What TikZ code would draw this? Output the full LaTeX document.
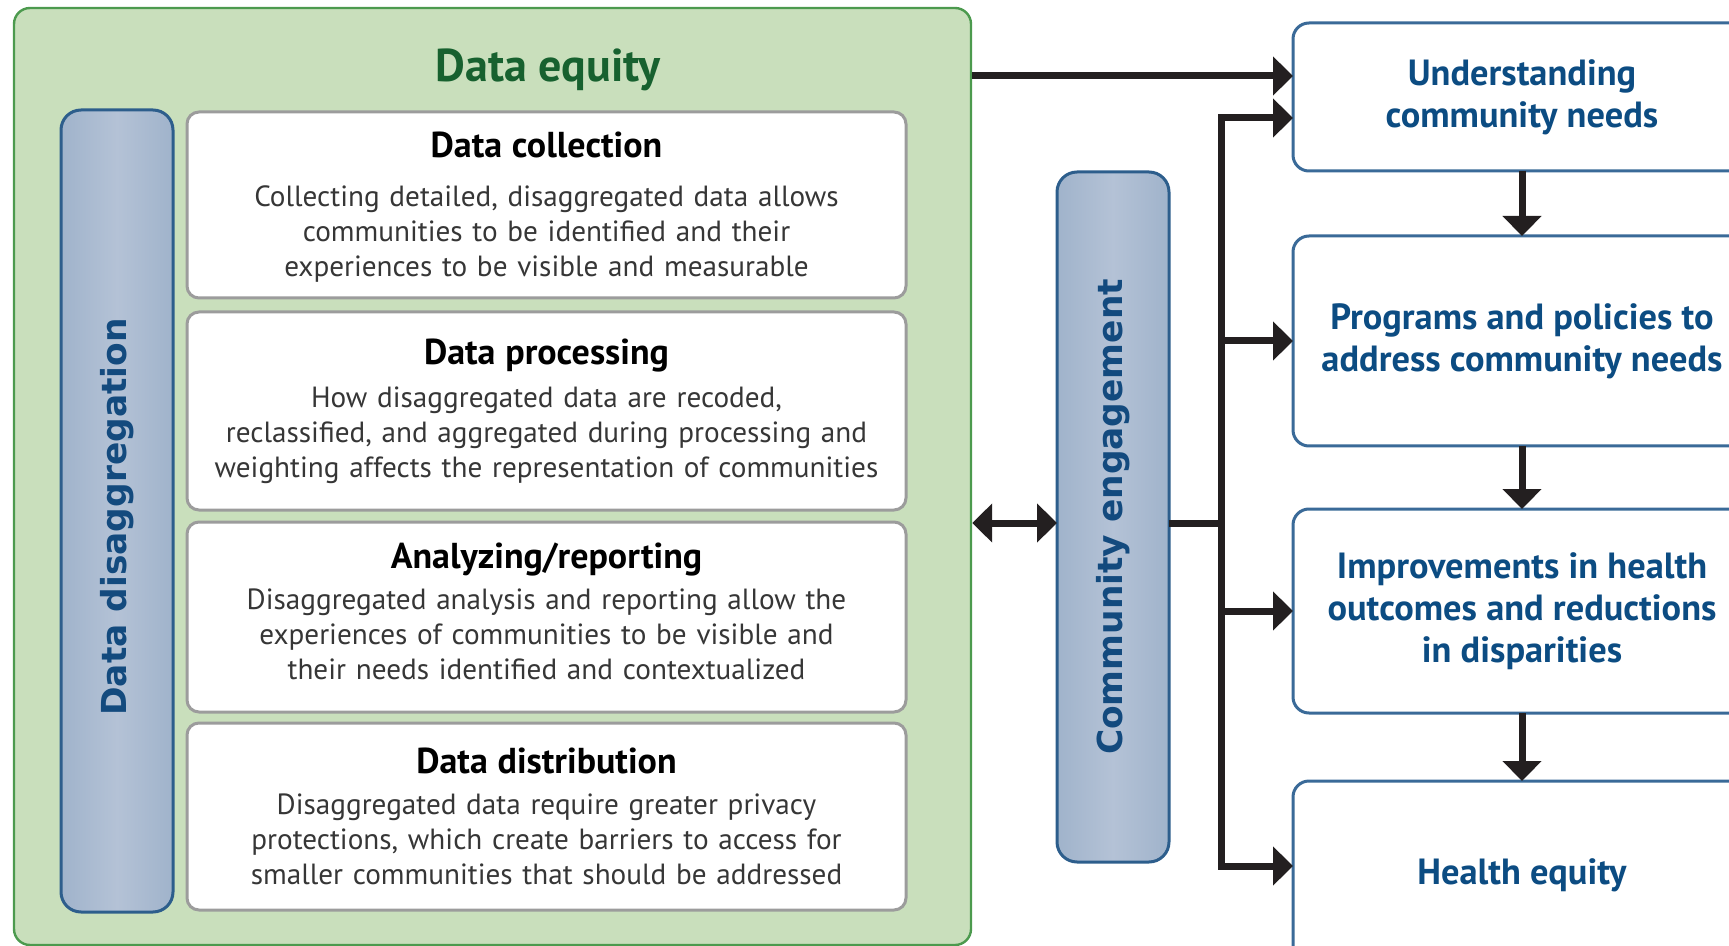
\documentclass[tikz,border=0pt]{standalone}
\usepackage{fontspec}
\setmainfont{PT Sans}
\newfontfamily\barfont{DejaVu Sans}
\usetikzlibrary{positioning,arrows.meta}
\definecolor{eqgreen}{HTML}{C9DFBC}
\definecolor{eqedge}{HTML}{4C9A4E}
\definecolor{eqtitle}{HTML}{17612F}
\definecolor{barfill}{HTML}{B4C2D6}
\definecolor{baredge}{HTML}{2D5E8C}
\definecolor{bartext}{HTML}{134A7E}
\definecolor{boxedge}{HTML}{9C9C9C}
\definecolor{steptext}{HTML}{363636}
\definecolor{outedge}{HTML}{3A6A98}
\definecolor{outtext}{HTML}{0C4C82}
\definecolor{linkink}{HTML}{231F20}

\begin{document}
\begin{tikzpicture}[x = 0.5pt, y = -0.5pt,
                    >  = {Triangle[length=10pt, width=19pt]}]
        \tikzset{EquityStyle/.style = {draw         = eqedge,
                                       line width   = 1.2pt,
                                       fill         = eqgreen,
                                       rounded corners = 8pt},
                 BarStyle/.style    = {draw         = baredge,
                                       line width   = 1.5pt,
                                       left color   = barfill!85!baredge,
                                       right color  = barfill!85!baredge,
                                       middle color = barfill,
                                       rounded corners = 10pt,
                                       minimum width = 56pt,
                                       outer sep    = 0pt},
                 BarText/.style     = {rotate       = 90,
                                       text         = bartext,
                                       font         = \barfont\bfseries\fontsize{17.2}{20}\selectfont},
                 StepStyle/.style   = {draw         = boxedge,
                                       line width   = 1.5pt,
                                       fill         = white,
                                       rounded corners = 6pt,
                                       minimum width = 359.5pt,
                                       text width   = 354pt,
                                       inner xsep   = 2pt,
                                       align        = center,
                                       outer sep    = 0pt,
                                       text         = steptext,
                                       font         = \fontsize{14.6}{17.5}\selectfont},
                 OutStyle/.style    = {draw         = outedge,
                                       line width   = 1.5pt,
                                       fill         = white,
                                       rounded corners = 8pt,
                                       minimum width = 229pt,
                                       align        = center,
                                       outer sep    = 0pt,
                                       text         = outtext,
                                       font         = \bfseries\fontsize{18.2}{21}\selectfont},
                 LinkStyle/.style   = {draw         = linkink,
                                       line width   = 3.5pt}}
        \useasboundingbox (0,0) rectangle (1729,946);

        % data equity frame
        \node[EquityStyle, minimum width=478.5pt, minimum height=468.5pt] (DE) at (492.5,476.5) {};
        \node[text=eqtitle, font=\bfseries\fontsize{23}{26}\selectfont] (DEt) at (548,70) {Data equity};
        \node[BarStyle, minimum height=401pt] (DDa) at (117,511) {};
        \node[BarText] (DDt) at (117,517) {Data disaggregation};

        \node[StepStyle, minimum height=93pt] (DSa) at (546.5,205)
            {{\bfseries\color{black}\fontsize{18}{17.5}\selectfont Data collection}\\[7pt]
             Collecting detailed, disaggregated data allows\\
             communities to be identified and their\\
             experiences to be visible and measurable\par\vspace{-2pt}};
        \node[StepStyle, minimum height=99pt, below=7pt of DSa] (DSb)
            {{\bfseries\color{black}\fontsize{18}{17.5}\selectfont Data processing}\\[4pt]
             How disaggregated data are recoded,\\
             reclassified, and aggregated during processing and\\
             weighting affects the representation of communities};
        \node[StepStyle, minimum height=95pt, below=6pt of DSb] (DSc)
            {{\bfseries\color{black}\fontsize{18}{17.5}\selectfont Analyzing/reporting}\\[3pt]
             Disaggregated analysis and reporting allow the\\
             experiences of communities to be visible and\\
             their needs identified and contextualized\par\vspace{5.5pt}};
        \node[StepStyle, minimum height=93.5pt, below=5.5pt of DSc] (DSd)
            {{\bfseries\color{black}\fontsize{18}{17.5}\selectfont Data distribution}\\[3pt]
             Disaggregated data require greater privacy\\
             protections, which create barriers to access for\\
             smaller communities that should be addressed};

        % community engagement
        \node[BarStyle, minimum height=345pt] (CEa) at (1113,517) {};
        \node[BarText] (CEt) at (CEa) {Community engagement};

        % outcomes
        \node[OutStyle, minimum height=74pt] (HOa) at (1522,97) {Understanding\\community needs};
        \node[OutStyle, minimum height=105pt, below=32.5pt of HOa] (HOb) {Programs and policies to\\address community needs};
        \node[OutStyle, minimum height=102pt, below=31.5pt of HOb] (HOc) {Improvements in health\\outcomes and reductions\\in disparities};
        \node[OutStyle, minimum height=94pt, below=34pt of HOc] (HOd) {Health equity};

        \draw[LinkStyle, ->] ([yshift=10.5pt]HOa.west -| DE.east) -- ([yshift=10.5pt]HOa.west);
        \draw[LinkStyle, <->] ([yshift=-3pt]CEa.west -| DE.east) -- ([yshift=-3pt]CEa.west);
        \coordinate (CT) at ([xshift=26pt, yshift=-3pt]CEa.east);
        \draw[LinkStyle] ([yshift=-3pt]CEa.east) -- (CT);
        \draw[LinkStyle, ->] (CT) |- ([yshift=-10.5pt]HOa.west);
        \draw[LinkStyle, ->] (CT |- HOb.west) -- (HOb.west);
        \draw[LinkStyle, ->] (CT |- HOc.west) -- (HOc.west);
        \draw[LinkStyle, ->] (CT) |- ([yshift=4.5pt]HOd.west);
        \draw[LinkStyle, ->] (HOa) -- (HOb);
        \draw[LinkStyle, ->] (HOb) -- (HOc);
        \draw[LinkStyle, ->] (HOc) -- (HOd);
\end{tikzpicture}
\end{document}
